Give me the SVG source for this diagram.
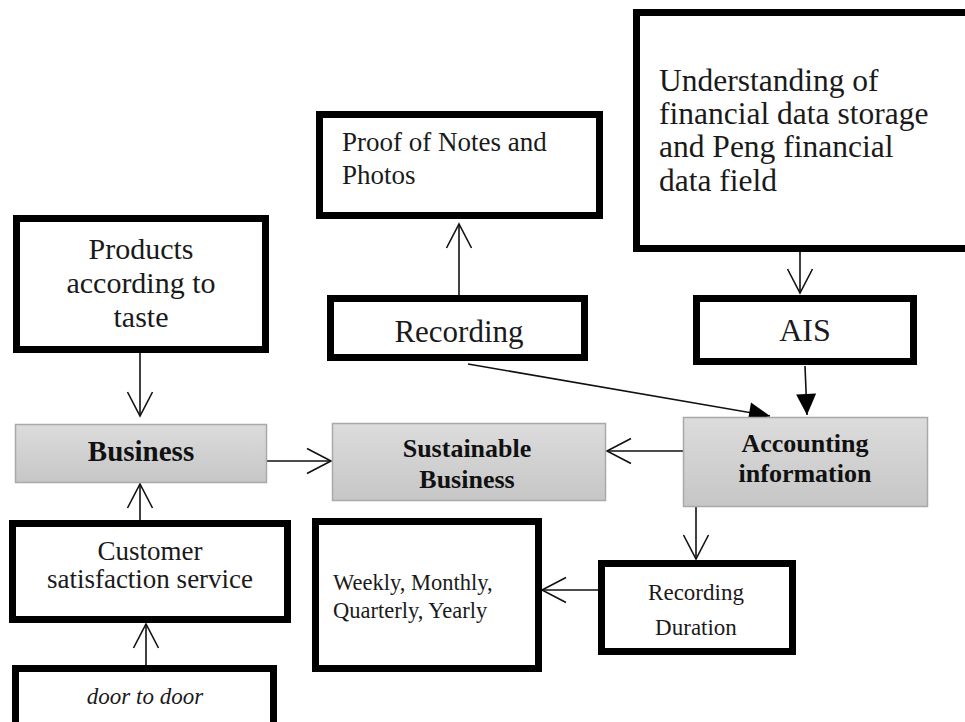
<svg xmlns="http://www.w3.org/2000/svg" width="965" height="722" viewBox="0 0 965 722">
<defs>
<linearGradient id="gray" x1="0" y1="0" x2="0" y2="1">
<stop offset="0" stop-color="#dcdcdc"/>
<stop offset="1" stop-color="#c6c6c6"/>
</linearGradient>
<marker id="open" markerUnits="userSpaceOnUse" viewBox="-28 -16 32 32" markerWidth="32" markerHeight="32" refX="0" refY="0" orient="auto">
<path d="M-24,-12.5 L0,0 L-24,12.5" fill="none" stroke="#111" stroke-width="1.6"/>
</marker>
<marker id="solid" markerUnits="userSpaceOnUse" viewBox="-24 -12 26 24" markerWidth="26" markerHeight="24" refX="0" refY="0" orient="auto">
<path d="M-21,-10 L0,0 L-21,10 Z" fill="#000"/>
</marker>
</defs>
<style>
.box{fill:#fff;stroke:#000;stroke-width:7}
.gbox{fill:url(#gray);stroke:#a9a9a9;stroke-width:1.5}
.t{font-family:"Liberation Serif","Times New Roman",serif;fill:#1a1a1a}
.c{text-anchor:middle}
.b{font-weight:bold;fill:#111}
.ln{stroke:#111;stroke-width:1.6;fill:none}
.lo{marker-end:url(#open)}
.ls{marker-end:url(#solid)}
</style>
<rect width="965" height="722" fill="#fff"/>

<g id="connectors">
<path class="ln lo" d="M140,353 L140,416"/>
<path class="ln lo" d="M140,520 L140,484"/>
<path class="ln lo" d="M146,665 L146,624"/>
<path class="ln lo" d="M267,461 L331,461"/>
<path class="ln lo" d="M683,451 L607,451"/>
<path class="ln lo" d="M459,295 L459,224"/>
<path class="ln ls" d="M468,364 L770,416"/>
<path class="ln lo" d="M800,252 L800,293"/>
<path class="ln ls" d="M805,366 L807,415"/>
<path class="ln lo" d="M696,507 L696,559"/>
<path class="ln lo" d="M598,590 L542,590"/>
</g>

<g id="products">
<rect class="box" x="16.5" y="218.5" width="249" height="131"/>
<text class="t c" font-size="30" x="141" y="259">Products</text>
<text class="t c" font-size="30" x="141" y="293">according to</text>
<text class="t c" font-size="30" x="141" y="327">taste</text>
</g>

<g id="proof">
<rect class="box" x="319.5" y="114.5" width="280" height="101"/>
<text class="t" font-size="27" x="342" y="151">Proof of Notes and</text>
<text class="t" font-size="27" x="342" y="184">Photos</text>
</g>

<g id="recording">
<rect class="box" x="330.5" y="298.5" width="254" height="59"/>
<text class="t c" font-size="31" x="459" y="342">Recording</text>
</g>

<g id="understanding">
<rect class="box" x="636.5" y="12.5" width="340" height="236"/>
<text class="t" font-size="31.5" x="659" y="91">Understanding of</text>
<text class="t" font-size="31.5" x="659" y="124">financial data storage</text>
<text class="t" font-size="31.5" x="659" y="157">and Peng financial</text>
<text class="t" font-size="31.5" x="659" y="191">data field</text>
</g>

<g id="ais">
<rect class="box" x="696.5" y="298.5" width="217" height="63"/>
<text class="t c" font-size="32" x="805" y="341">AIS</text>
</g>

<g id="business">
<rect class="gbox" x="15.5" y="424.5" width="251" height="58"/>
<text class="t c b" font-size="29" x="141" y="461">Business</text>
</g>

<g id="sustainable">
<rect class="gbox" x="332.5" y="423.5" width="273" height="77"/>
<text class="t c b" font-size="26" x="467" y="457">Sustainable</text>
<text class="t c b" font-size="26" x="467" y="488">Business</text>
</g>

<g id="accounting">
<rect class="gbox" x="683.5" y="417.5" width="244" height="89"/>
<text class="t c b" font-size="26" x="805" y="452">Accounting</text>
<text class="t c b" font-size="26" x="805" y="482">information</text>
</g>

<g id="customer">
<rect class="box" x="12.5" y="523.5" width="275" height="96"/>
<text class="t c" font-size="27" x="150" y="560">Customer</text>
<text class="t c" font-size="27" x="150" y="588">satisfaction service</text>
</g>

<g id="door">
<rect class="box" x="15.5" y="668.5" width="258" height="57"/>
<text class="t c" font-size="23" font-style="italic" x="145" y="704">door to door</text>
</g>

<g id="weekly">
<rect class="box" x="315.5" y="521.5" width="223" height="147"/>
<text class="t" font-size="22.5" x="333" y="590">Weekly, Monthly,</text>
<text class="t" font-size="22.5" x="333" y="618">Quarterly, Yearly</text>
</g>

<g id="duration">
<rect class="box" x="601.5" y="563.5" width="191" height="88"/>
<text class="t c" font-size="23" x="696" y="600">Recording</text>
<text class="t c" font-size="23" x="696" y="635">Duration</text>
</g>
</svg>
